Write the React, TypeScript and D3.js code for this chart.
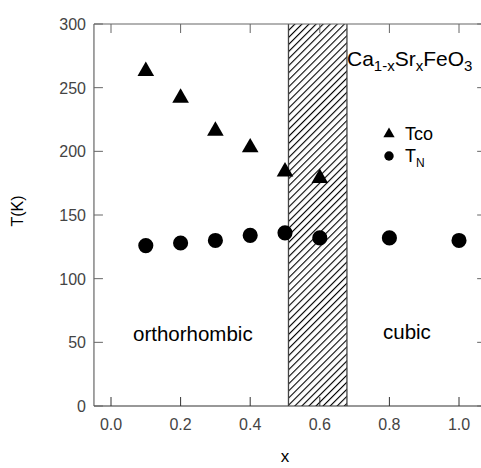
import React from "react";
import * as d3 from "d3";

const xTco = [0.1, 0.2, 0.3, 0.4, 0.5, 0.6];
const tco = [263, 242, 216, 203, 184, 179];
const xTN = [0.1, 0.2, 0.3, 0.4, 0.5, 0.6, 0.8, 1.0];
const tn = [126, 128, 130, 134, 136, 132, 132, 130];
const xTicks = [0, 0.2, 0.4, 0.6, 0.8, 1.0];
const yTicks = [0, 50, 100, 150, 200, 250, 300];
const band = [0.51, 0.678];

export default function App() {
  const x = d3.scaleLinear().domain([0, 1]).range([111, 459]);
  const y = d3.scaleLinear().domain([0, 300]).range([406, 24]);
  const xMin = -0.049;
  const xMax = 1.078;
  const L = x(xMin), R = x(xMax), T = y(300), B = y(0);
  const tri = d3.symbol().type(d3.symbolTriangle).size(120)();
  const circ = d3.symbol().type(d3.symbolCircle).size(180)();
  const triS = d3.symbol().type(d3.symbolTriangle).size(55)();
  const circS = d3.symbol().type(d3.symbolCircle).size(70)();
  const font = "'Liberation Sans', Arial, sans-serif";
  const axisColor = "#666";
  const tickLen = 9;
  return (
    <svg width={481} height={468} style={{ position: "absolute", left: 0, top: 0, background: "#fff" }} fontFamily={font}>
      <defs>
        <pattern id="hatch" patternUnits="userSpaceOnUse" width={5} height={5} patternTransform="rotate(45)">
          <line x1={0.5} y1={-1} x2={0.5} y2={6} stroke="#000" strokeWidth={1.2} />
        </pattern>
      </defs>
      {/* hatched band */}
      <rect x={x(band[0])} y={T} width={x(band[1]) - x(band[0])} height={B - T} fill="url(#hatch)" />
      <line x1={x(band[0])} x2={x(band[0])} y1={T} y2={B} stroke="#444" strokeWidth={1.3} />
      <line x1={x(band[1])} x2={x(band[1])} y1={T} y2={B} stroke="#444" strokeWidth={1.3} />
      {/* axes frame */}
      <line x1={L} x2={L} y1={T} y2={B} stroke={axisColor} strokeWidth={1.2} />
      <line x1={R} x2={R} y1={T} y2={B} stroke={axisColor} strokeWidth={1.2} />
      <line x1={L} x2={R} y1={T} y2={T} stroke={axisColor} strokeWidth={1.2} />
      <line x1={L} x2={R} y1={B} y2={B} stroke="#333" strokeWidth={1.2} />
      {xTicks.map((t) => (
        <g key={"xt" + t}>
          <line x1={x(t)} x2={x(t)} y1={B} y2={B - tickLen} stroke="#333" />
          <line x1={x(t)} x2={x(t)} y1={T} y2={T + tickLen} stroke={axisColor} />
          <text x={x(t)} y={B + 24} textAnchor="middle" fontSize={16} fill="#444">{t.toFixed(1)}</text>
        </g>
      ))}
      {yTicks.map((t) => (
        <g key={"yt" + t}>
          <line x1={L} x2={L + tickLen} y1={y(t)} y2={y(t)} stroke={axisColor} />
          <line x1={R} x2={R - tickLen} y1={y(t)} y2={y(t)} stroke={axisColor} />
          <text x={L - 8} y={y(t) + 6} textAnchor="end" fontSize={16} fill="#444">{t}</text>
        </g>
      ))}
      {/* data */}
      {xTco.map((v, i) => (
        <path key={"tc" + i} d={tri} transform={`translate(${x(v)},${y(tco[i])})`} fill="#000" />
      ))}
      {xTN.map((v, i) => (
        <path key={"tn" + i} d={circ} transform={`translate(${x(v)},${y(tn[i])})`} fill="#000" />
      ))}
      {/* labels */}
      <text x={347} y={66} fontSize={21} fill="#000">
        Ca<tspan fontSize={15} dy={5}>1-x</tspan>
        <tspan dy={-5}>Sr</tspan>
        <tspan fontSize={15} dy={5}>x</tspan>
        <tspan dy={-5}>FeO</tspan>
        <tspan fontSize={15} dy={5}>3</tspan>
      </text>
      <path d={triS} transform="translate(389,134)" fill="#000" />
      <text x={405} y={140} fontSize={18} fill="#000">Tco</text>
      <path d={circS} transform="translate(389,156)" fill="#000" />
      <text x={405} y={162} fontSize={18} fill="#000">
        T<tspan fontSize={12} dy={5}>N</tspan>
      </text>
      <text x={133} y={341} fontSize={20.5} fill="#000">orthorhombic</text>
      <text x={383} y={339} fontSize={20.5} fill="#000">cubic</text>
      <text transform="translate(23,211) rotate(-90)" textAnchor="middle" fontSize={16} fill="#000">T(K)</text>
      <text x={285} y={462} textAnchor="middle" fontSize={17} fill="#000">x</text>
    </svg>
  );
}
